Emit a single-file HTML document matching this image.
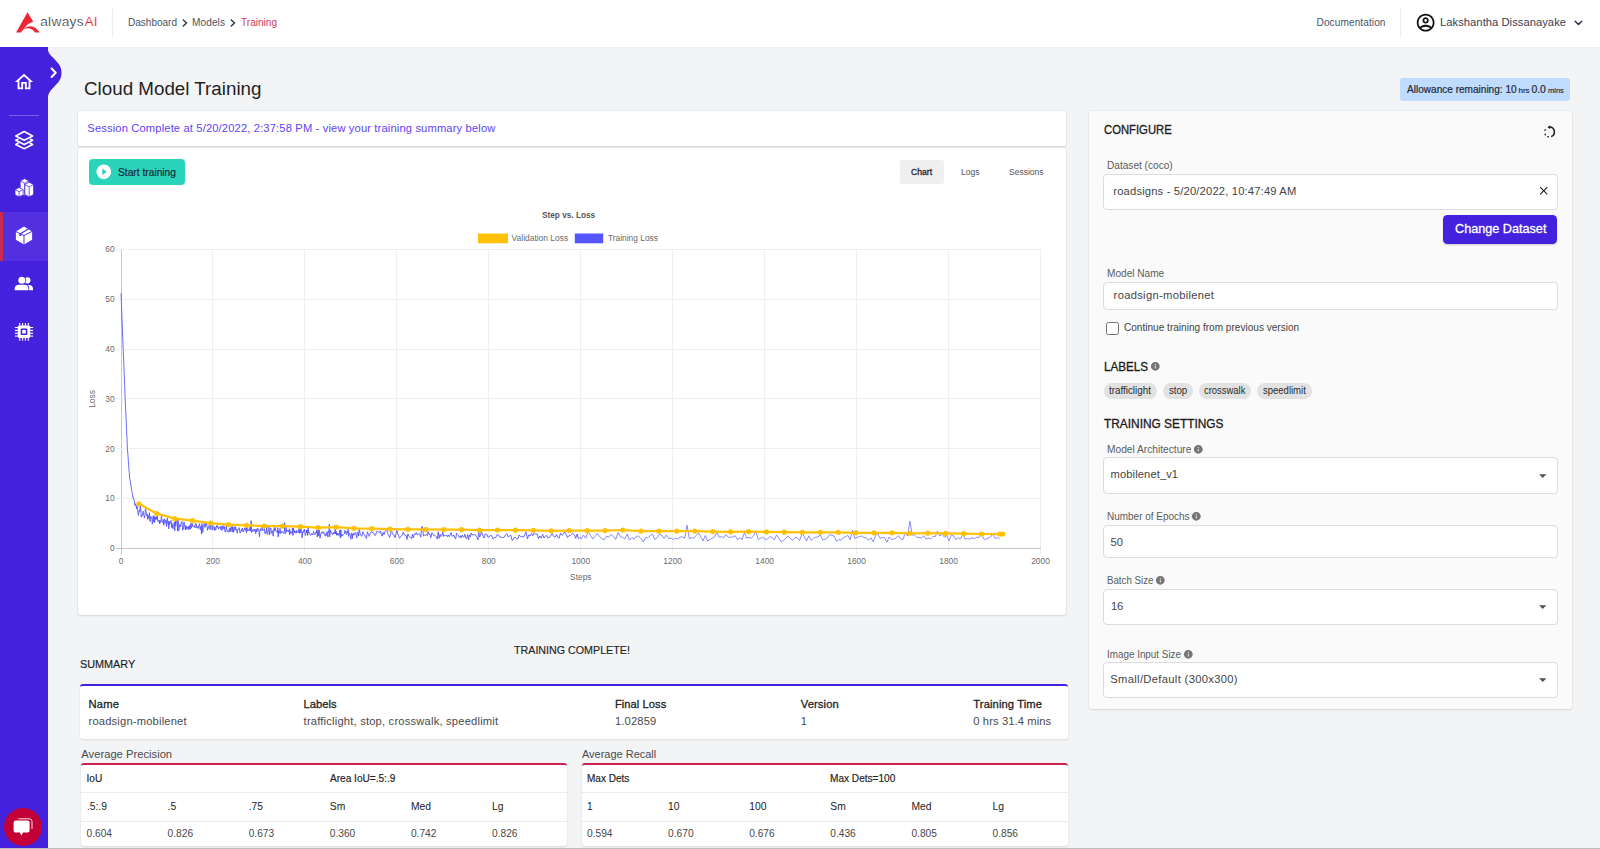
<!DOCTYPE html>
<html lang="en"><head><meta charset="utf-8"><title>Cloud Model Training - alwaysAI</title>
<style>
html,body{margin:0;padding:0}
body{width:1600px;height:849px;position:relative;overflow:hidden;background:#f3f4f6;font-family:"Liberation Sans",sans-serif}
.b{position:absolute;box-sizing:border-box}
.t{position:absolute;white-space:nowrap}
svg{display:block;overflow:visible}
svg text{font-family:"Liberation Sans",sans-serif}
</style></head>
<body>
<div class="b" style="left:0px;top:0px;width:1600px;height:849px;background:#f3f4f6"></div>
<div class="b" style="left:0px;top:0px;width:1600px;height:47px;background:#fff;box-shadow:0 1px 1px rgba(0,0,0,.025)"></div>
<div class="b" style="left:112px;top:7px;width:1px;height:31px;background:#eeeeee"></div>
<div class="b" style="left:1400px;top:7px;width:1px;height:31px;background:#eeeeee"></div>
<svg class="b" style="left:0;top:0" width="120" height="47" viewBox="0 0 120 47"><g fill="#ee2737"><path d="M27.5 12.3 L33.3 21.7 C29.6 22.6 26.6 24.8 24.3 28.2 L20.9 32.6 L16.1 32.6 Z"/><path d="M23.8 29.2 C26 26.9 28.4 26.1 30.8 26.2 C34.4 26.4 37.2 28.6 39.6 32.6 L35 32.6 C33.6 30.2 31.6 28.7 29.4 28.4 C27.4 28.2 25.6 28.5 23.8 29.6 Z"/></g></svg>
<span class="t" id="lg1" style="left:40.2px;top:12.4px;font-size:13.7px;line-height:19px;color:#2e2e2e;font-weight:400;letter-spacing:0.311px;-webkit-text-stroke:0.22px #fff;">always</span>
<span class="t" id="lg2" style="left:84.6px;top:12.4px;font-size:13.7px;line-height:19px;color:#ee2737;font-weight:400;-webkit-text-stroke:0.15px #fff;">AI</span>
<span class="t" id="bc1" style="left:128px;top:15.5px;font-size:10.1px;line-height:14px;color:#4a5363;font-weight:400;transform:scaleX(0.9921);transform-origin:left center;">Dashboard</span>
<svg class="b" style="left:181.7px;top:18.5px" width="6" height="8" viewBox="0 0 6 8"><path d="M1.3 1 L4.5 4 L1.3 7" fill="none" stroke="#2b3544" stroke-width="1.5" stroke-linecap="round" stroke-linejoin="round"/></svg>
<span class="t" id="bc2" style="left:192px;top:15.5px;font-size:10.1px;line-height:14px;color:#4a5363;font-weight:400;letter-spacing:0.091px;">Models</span>
<svg class="b" style="left:229.7px;top:18.5px" width="6" height="8" viewBox="0 0 6 8"><path d="M1.3 1 L4.5 4 L1.3 7" fill="none" stroke="#2b3544" stroke-width="1.5" stroke-linecap="round" stroke-linejoin="round"/></svg>
<span class="t" id="bc3" style="left:240.5px;top:15.5px;font-size:10.1px;line-height:14px;color:#d03a5c;font-weight:400;transform:scaleX(0.9974);transform-origin:left center;">Training</span>
<span class="t" id="doc" style="left:1316.5px;top:15.5px;font-size:10.1px;line-height:14px;color:#4b5563;font-weight:400;letter-spacing:0.091px;">Documentation</span>
<svg class="b" style="left:1414.9499999999998px;top:12.15px" width="21.3" height="21.3" viewBox="0 0 24 24"><path fill="#111" d="M12 2C6.48 2 2 6.48 2 12s4.48 10 10 10 10-4.48 10-10S17.52 2 12 2zM7.07 18.28c.43-.9 3.05-1.78 4.93-1.78s4.51.88 4.93 1.78C15.57 19.36 13.86 20 12 20s-3.57-.64-4.93-1.72zm11.29-1.45c-1.43-1.74-4.9-2.33-6.36-2.33s-4.93.59-6.36 2.33C4.62 15.49 4 13.82 4 12c0-4.41 3.59-8 8-8s8 3.59 8 8c0 1.82-.62 3.49-1.64 4.83zM12 6c-1.94 0-3.5 1.56-3.5 3.5S10.06 13 12 13s3.5-1.56 3.5-3.5S13.94 6 12 6zm0 5c-.83 0-1.5-.67-1.5-1.5S11.17 8 12 8s1.5.67 1.5 1.5S12.83 11 12 11z"/></svg>
<span class="t" id="usr" style="left:1440px;top:14.1px;font-size:11.2px;line-height:16px;color:#374151;font-weight:400;letter-spacing:0.047px;">Lakshantha Dissanayake</span>
<svg class="b" style="left:1574px;top:20px" width="9" height="6" viewBox="0 0 9 6"><path d="M1.2 1.2 L4.5 4.5 L7.8 1.2" fill="none" stroke="#2b3544" stroke-width="1.5" stroke-linecap="round" stroke-linejoin="round"/></svg>
<div class="b" style="left:0px;top:47.4px;width:47.5px;height:801.6px;background:#4422dd"></div>
<svg class="b" style="left:47px;top:47px" width="18" height="60" viewBox="0 0 18 60"><path fill="#4422dd" d="M0 0 H0.6 C0.8 5 2.5 7.5 6 10.5 L11.3 16.4 C15.6 21 15.6 30.5 11.3 35.2 L6 41 C2.5 44.5 0.8 47.5 0.6 53 V60 H0 Z"/></svg>
<svg class="b" style="left:50px;top:67px" width="8" height="12" viewBox="0 0 8 12"><path d="M1.6 1.6 L5.7 5.8 L1.6 10" fill="none" stroke="#fff" stroke-width="2.1" stroke-linecap="round" stroke-linejoin="round"/></svg>
<div class="b" style="left:0px;top:211.8px;width:47.5px;height:49.0px;background:#5230e2"></div>
<div class="b" style="left:0px;top:211.8px;width:2.6px;height:49.0px;background:#c92a50"></div>
<div class="b" style="left:9px;top:115px;width:30px;height:1px;background:rgba(255,255,255,.28)"></div>
<svg class="b" style="left:13.0px;top:71.2px" width="22" height="22" viewBox="0 0 24 24"><path fill="#fff" d="M12 5.69l5 4.5V18h-2v-6H9v6H7v-7.81l5-4.5M12 3L2 12h3v8h6v-6h2v6h6v-8h3L12 3z"/></svg>
<svg class="b" style="left:0;top:120px" width="48" height="90" viewBox="0 120 48 90"><g fill="none" stroke="#fff" stroke-width="1.65" stroke-linejoin="round" stroke-linecap="round"><path d="M24.2 131.5 L32.6 135.9 L24.2 140.3 L15.8 135.9 Z"/><path d="M18 139.1 L15.8 140.3 L24.2 144.6 L32.6 140.3 L30.4 139.1"/><path d="M18 143.2 L15.8 144.4 L24.2 148.7 L32.6 144.4 L30.4 143.2"/></g><g fill="#fff" stroke="#4422dd" stroke-width="0.75" stroke-linejoin="round"><path d="M24.6 178.6 L29 180.9 V193.8 L24.6 196 L20.2 193.8 V180.9 Z"/><path d="M20.2 180.9 L24.6 183.2 L29 180.9 M24.6 183.2 V196" fill="none"/><path d="M29.2 182.2 L33.6 184.5 V194.6 L29.2 196.9 L24.8 194.6 V184.5 Z"/><path d="M24.8 184.5 L29.2 186.8 L33.6 184.5 M29.2 186.8 V196.9" fill="none"/><path d="M19.1 187.5 L23.2 189.6 V194.8 L19.1 196.9 L15 194.8 V189.6 Z"/><path d="M15 189.6 L19.1 191.7 L23.2 189.6 M19.1 191.7 V196.9" fill="none"/></g></svg>
<svg class="b" style="left:0;top:220px" width="48" height="32" viewBox="0 220 48 32"><path fill="#fff" d="M24 226.5 L32.1 231.4 V239.7 L24 244.6 L15.9 239.7 V231.6 Z"/><g fill="none" stroke="#4a28e0" stroke-width="0.95" stroke-linejoin="round"><path d="M15.9 231.6 L24 235.5 L32.1 231.4 M24 235.5 V244.6"/><path d="M20.4 233.7 L28.3 229.1" stroke-width="1.15"/></g><path fill="#4a28e0" d="M19.4 233.3 L19.4 236.2 L20.3 235.8 L21.2 236.6 L21.2 234.2 Z"/></svg>
<svg class="b" style="left:0;top:270px" width="48" height="80" viewBox="0 270 48 80"><g fill="#fff"><circle cx="27.4" cy="280.3" r="3.1"/><path d="M25.6 290.2 V288.6 C25.6 286.9 26.3 285.7 27.4 284.9 H29 C31.4 284.9 33 286.5 33 288.6 V290.2 Z"/><circle cx="21.8" cy="280.2" r="4.3" fill="#4422dd"/><path d="M13.9 290.9 V288.4 C13.9 285.8 16 284 18.6 284 H25 C27.6 284 29.2 285.8 29.2 288.4 V290.9 Z" fill="#4422dd"/><circle cx="21.8" cy="280.2" r="3.5"/><path d="M14.7 290.2 V288.6 C14.7 286.4 16.4 284.8 18.8 284.8 H24.8 C27 284.8 28.4 286.4 28.4 288.6 V290.2 Z"/><rect x="19.15" y="322.9" width="1.1" height="17.8"/><rect x="14.9" y="326.95" width="18.2" height="1.1"/><rect x="22.05" y="322.9" width="1.1" height="17.8"/><rect x="14.9" y="329.85" width="18.2" height="1.1"/><rect x="24.85" y="322.9" width="1.1" height="17.8"/><rect x="14.9" y="332.65" width="18.2" height="1.1"/><rect x="27.75" y="322.9" width="1.1" height="17.8"/><rect x="14.9" y="335.55" width="18.2" height="1.1"/><rect x="17.8" y="325.5" width="12.4" height="12.6" rx="1.6"/><rect x="20.7" y="328.6" width="6.6" height="6.5" rx="0.8" fill="#4422dd"/><rect x="22.2" y="330.1" width="3.6" height="3.5" rx="0.3"/></g></svg>
<div class="b" style="left:4.4px;top:808px;width:38.0px;height:38px;background:#c20035;border-radius:50%"></div>
<svg class="b" style="left:12.3px;top:816.6px" width="22" height="21" viewBox="0 0 22 21"><path fill="#fff" d="M4 3.4 H15.6 Q17.6 3.4 17.6 5.4 V13.6 Q17.6 15.6 15.6 15.6 H11 L9.4 18.4 L7.8 15.6 H4 Q1.6 15.6 1.6 13.4 V5.6 Q1.6 3.4 4 3.4 Z"/><path fill="none" stroke="#fff" stroke-width="0.9" d="M6.4 1.8 H17.4 Q20 1.8 20 4.4 V12"/></svg>
<span class="t" id="ttl" style="left:84px;top:75.0px;font-size:19.2px;line-height:27px;color:#1f1f1f;font-weight:400;transform:scaleX(0.9789);transform-origin:left center;">Cloud Model Training</span>
<div class="b" style="left:1400px;top:78px;width:170px;height:22.700000000000003px;background:#bfdbfe;border-radius:3px"></div>
<span class="t" id="al1" style="left:1407px;top:81.9px;font-size:10.4px;line-height:15px;color:#1f2937;font-weight:400;-webkit-text-stroke:0.2px currentColor;transform:scaleX(0.9680);transform-origin:left center;">Allowance remaining: 10</span>
<span class="t" id="al2" style="left:1518.5px;top:84.7px;font-size:8px;line-height:11px;color:#1f2937;font-weight:400;-webkit-text-stroke:0.16px currentColor;">hrs</span>
<span class="t" id="al3" style="left:1531.4px;top:81.9px;font-size:10.4px;line-height:15px;color:#1f2937;font-weight:400;-webkit-text-stroke:0.2px currentColor;">0.0</span>
<span class="t" id="al4" style="left:1547.7px;top:84.7px;font-size:8px;line-height:11px;color:#1f2937;font-weight:400;-webkit-text-stroke:0.16px currentColor;transform:scaleX(0.9354);transform-origin:left center;">mins</span>
<div class="b" style="left:78.2px;top:110.9px;width:987.8px;height:34.79999999999998px;background:#fff;border-radius:2.5px;box-shadow:0 0 0 1px rgba(0,0,0,.035),0 1px 2px rgba(0,0,0,.09);"></div>
<span class="t" id="ses" style="left:87.3px;top:119.6px;font-size:11.2px;line-height:16px;color:#6144f2;font-weight:400;letter-spacing:0.134px;">Session Complete at 5/20/2022, 2:37:58 PM - view your training summary below</span>
<div class="b" style="left:78.2px;top:148px;width:987.8px;height:467.4px;background:#fff;border-radius:2.5px;box-shadow:0 0 0 1px rgba(0,0,0,.035),0 1px 2px rgba(0,0,0,.09);"></div>
<div class="b" style="left:89px;top:159.3px;width:96px;height:25.399999999999977px;background:#2ad4bb;border-radius:4px"></div>
<svg class="b" style="left:94.7px;top:163.39999999999998px" width="17.6" height="17.6" viewBox="0 0 24 24"><path fill="#fff" d="M12 2C6.48 2 2 6.48 2 12s4.48 10 10 10 10-4.48 10-10S17.52 2 12 2zm-2 14.5v-9l6 4.5-6 4.5z"/></svg>
<span class="t" id="stb" style="left:117.5px;top:164.7px;font-size:10.4px;line-height:15px;color:#1f2937;font-weight:400;-webkit-text-stroke:0.22px currentColor;transform:scaleX(0.9844);transform-origin:left center;">Start training</span>
<div class="b" style="left:900.2px;top:160px;width:43.5px;height:24.19999999999999px;background:#efefef;border-radius:3px"></div>
<span class="t" id="tb1" style="left:911.3px;top:164.9px;font-size:9.6px;line-height:13px;color:#222;font-weight:400;-webkit-text-stroke:0.3px currentColor;transform:scaleX(0.8991);transform-origin:left center;">Chart</span>
<span class="t" id="tb2" style="left:961.4px;top:164.9px;font-size:9.6px;line-height:13px;color:#555;font-weight:400;transform:scaleX(0.8937);transform-origin:left center;">Logs</span>
<span class="t" id="tb3" style="left:1008.7px;top:164.9px;font-size:9.6px;line-height:13px;color:#555;font-weight:400;transform:scaleX(0.8886);transform-origin:left center;">Sessions</span>
<svg class="b" style="left:0;top:0" width="1100" height="620" viewBox="0 0 1100 620">
<g shape-rendering="crispEdges"><line x1="121.0" y1="249.5" x2="121.0" y2="553.5" stroke="#c6c6c6" stroke-width="1"/><line x1="212.9" y1="249.5" x2="212.9" y2="553.5" stroke="#eeeeee" stroke-width="1"/><line x1="304.9" y1="249.5" x2="304.9" y2="553.5" stroke="#eeeeee" stroke-width="1"/><line x1="396.9" y1="249.5" x2="396.9" y2="553.5" stroke="#eeeeee" stroke-width="1"/><line x1="488.8" y1="249.5" x2="488.8" y2="553.5" stroke="#eeeeee" stroke-width="1"/><line x1="580.8" y1="249.5" x2="580.8" y2="553.5" stroke="#eeeeee" stroke-width="1"/><line x1="672.7" y1="249.5" x2="672.7" y2="553.5" stroke="#eeeeee" stroke-width="1"/><line x1="764.6" y1="249.5" x2="764.6" y2="553.5" stroke="#eeeeee" stroke-width="1"/><line x1="856.6" y1="249.5" x2="856.6" y2="553.5" stroke="#eeeeee" stroke-width="1"/><line x1="948.5" y1="249.5" x2="948.5" y2="553.5" stroke="#eeeeee" stroke-width="1"/><line x1="1040.5" y1="249.5" x2="1040.5" y2="553.5" stroke="#eeeeee" stroke-width="1"/><line x1="116.0" y1="548.5" x2="1040.5" y2="548.5" stroke="#c6c6c6" stroke-width="1"/><line x1="116.0" y1="498.6" x2="1040.5" y2="498.6" stroke="#eeeeee" stroke-width="1"/><line x1="116.0" y1="448.8" x2="1040.5" y2="448.8" stroke="#eeeeee" stroke-width="1"/><line x1="116.0" y1="398.9" x2="1040.5" y2="398.9" stroke="#eeeeee" stroke-width="1"/><line x1="116.0" y1="349.0" x2="1040.5" y2="349.0" stroke="#eeeeee" stroke-width="1"/><line x1="116.0" y1="299.1" x2="1040.5" y2="299.1" stroke="#eeeeee" stroke-width="1"/><line x1="116.0" y1="249.3" x2="1040.5" y2="249.3" stroke="#eeeeee" stroke-width="1"/></g>
<polyline fill="none" stroke="#4f4ffa" stroke-width="0.85" stroke-linejoin="round" points="121.0,293.3 121.5,304.5 121.9,316.6 122.4,328.3 122.8,340.3 123.3,351.5 123.8,362.3 124.2,374.3 124.7,385.5 125.1,397.6 125.6,407.8 126.1,418.1 126.5,429.4 127.0,438.1 127.4,448.5 127.9,454.3 128.4,461.5 128.8,467.5 129.3,472.8 129.7,478.5 130.2,480.8 130.7,483.8 131.1,486.2 131.6,489.7 132.0,491.9 132.5,494.6 133.0,498.0 133.4,497.9 133.9,499.8 134.3,500.7 134.8,504.3 135.3,505.8 135.7,503.7 136.2,505.9 136.6,509.1 137.1,506.1 137.6,508.5 138.0,513.6 138.5,515.4 138.9,511.5 139.4,509.9 139.8,511.6 140.3,505.2 140.8,509.8 141.2,517.1 141.7,515.1 142.1,515.9 142.6,515.3 143.1,511.1 143.5,515.0 144.0,515.4 144.4,518.1 144.9,515.5 145.4,508.7 145.8,509.4 146.3,514.6 146.7,515.9 147.2,513.7 147.7,519.4 148.1,515.7 148.6,515.6 149.0,518.7 149.5,512.7 150.0,521.7 150.4,517.6 150.9,516.2 151.3,518.2 151.8,518.2 152.3,524.2 152.7,521.3 153.2,515.7 153.6,521.6 154.1,516.2 154.6,522.6 155.0,516.8 155.5,517.7 155.9,519.6 156.4,516.7 156.9,519.6 157.3,513.6 157.8,521.6 158.2,521.6 158.7,521.7 159.2,520.0 159.6,523.9 160.1,520.7 160.5,522.5 161.0,519.9 161.5,515.6 161.9,520.9 162.4,522.5 162.8,522.2 163.3,519.6 163.8,525.2 164.2,520.2 164.7,518.8 165.1,523.4 165.6,521.1 166.1,520.1 166.5,526.5 167.0,522.6 167.4,518.0 167.9,523.6 168.4,521.4 168.8,528.9 169.3,521.6 169.7,524.7 170.2,522.3 170.7,522.8 171.1,520.5 171.6,527.5 172.0,523.5 172.5,527.0 173.0,528.8 173.4,525.8 173.9,524.1 174.3,522.3 174.8,530.8 175.3,520.8 175.7,526.0 176.2,521.6 176.6,520.4 177.1,521.6 177.5,531.1 178.0,519.9 178.5,525.5 178.9,530.9 179.4,526.2 179.8,524.5 180.3,526.9 180.8,525.2 181.2,522.2 181.7,521.8 182.1,521.6 182.6,530.3 183.1,528.4 183.5,528.9 184.0,521.9 184.4,525.8 184.9,525.8 185.4,530.0 185.8,525.4 186.3,529.3 186.7,526.5 187.2,528.0 187.7,527.0 188.1,529.5 188.6,526.5 189.0,529.7 189.5,525.3 190.0,527.5 190.4,529.2 190.9,523.0 191.3,528.1 191.8,526.9 192.3,523.6 192.7,526.0 193.2,525.9 193.6,526.9 194.1,526.0 194.6,525.9 195.0,527.9 195.5,523.9 195.9,523.1 196.4,524.8 196.9,528.0 197.3,526.6 197.8,528.6 198.2,528.3 198.7,526.0 199.2,524.3 199.6,523.6 200.1,529.7 200.5,529.7 201.0,526.0 201.5,534.1 201.9,523.5 202.4,526.7 202.8,532.6 203.3,525.3 203.8,524.6 204.2,523.4 204.7,527.2 205.1,527.5 205.6,522.7 206.1,525.5 206.5,523.8 207.0,525.7 207.4,530.3 207.9,527.5 208.4,528.4 208.8,527.0 209.3,524.3 209.7,527.4 210.2,529.8 210.7,524.4 211.1,524.3 211.6,521.1 212.0,530.0 212.5,529.1 212.9,525.5 213.4,526.2 213.9,527.6 214.3,530.5 214.8,526.8 215.2,529.0 215.7,530.2 216.2,527.8 216.6,525.7 217.1,527.4 217.5,525.4 218.0,526.9 218.5,529.3 218.9,527.5 219.4,527.8 219.8,527.1 220.3,526.5 220.8,529.6 221.2,526.1 221.7,527.3 222.1,530.6 222.6,526.1 223.1,525.4 223.5,528.2 224.0,529.0 224.4,526.6 224.9,531.2 225.4,532.2 225.8,532.2 226.3,524.1 226.7,529.9 227.2,530.0 227.7,531.9 228.1,532.0 228.6,532.0 229.0,530.0 229.5,528.4 230.0,532.1 230.4,527.6 230.9,531.1 231.3,526.6 231.8,527.3 232.3,532.0 232.7,526.5 233.2,529.9 233.6,532.4 234.1,526.8 234.6,528.5 235.0,530.3 235.5,526.6 235.9,527.6 236.4,530.4 236.9,531.5 237.3,533.3 237.8,529.1 238.2,529.6 238.7,528.8 239.2,527.6 239.6,531.7 240.1,533.1 240.5,532.6 241.0,530.5 241.5,529.2 241.9,531.2 242.4,528.0 242.8,530.1 243.3,532.0 243.8,529.9 244.2,529.8 244.7,527.8 245.1,529.4 245.6,530.8 246.1,528.0 246.5,532.7 247.0,526.8 247.4,530.5 247.9,531.0 248.4,529.5 248.8,530.6 249.3,530.8 249.7,527.2 250.2,527.4 250.6,531.2 251.1,520.6 251.6,532.5 252.0,531.9 252.5,529.9 252.9,530.6 253.4,529.4 253.9,531.5 254.3,530.2 254.8,529.0 255.2,529.8 255.7,533.7 256.2,528.9 256.6,532.0 257.1,531.0 257.5,527.9 258.0,529.4 258.5,529.4 258.9,531.5 259.4,536.8 259.8,532.0 260.3,528.6 260.8,530.4 261.2,530.0 261.7,530.4 262.1,526.8 262.6,530.4 263.1,530.2 263.5,530.0 264.0,530.5 264.4,528.7 264.9,533.6 265.4,533.4 265.8,531.7 266.3,532.4 266.7,526.0 267.2,534.3 267.7,534.5 268.1,531.5 268.6,529.4 269.0,526.9 269.5,535.0 270.0,529.7 270.4,529.3 270.9,528.1 271.3,533.4 271.8,531.6 272.3,530.6 272.7,533.7 273.2,536.2 273.6,531.5 274.1,528.5 274.6,531.2 275.0,527.1 275.5,530.7 275.9,530.6 276.4,531.2 276.9,531.3 277.3,533.0 277.8,527.5 278.2,537.0 278.7,530.6 279.2,533.4 279.6,531.7 280.1,528.2 280.5,533.7 281.0,533.4 281.5,531.2 281.9,531.9 282.4,531.5 282.8,532.6 283.3,533.3 283.8,533.5 284.2,532.1 284.7,522.6 285.1,533.5 285.6,533.6 286.1,527.2 286.5,531.8 287.0,530.0 287.4,530.9 287.9,530.6 288.3,531.8 288.8,531.7 289.3,528.8 289.7,534.9 290.2,530.6 290.6,533.1 291.1,532.3 291.6,532.9 292.0,533.7 292.5,527.8 292.9,535.5 293.4,528.2 293.9,531.9 294.3,530.5 294.8,533.1 295.2,532.2 295.7,531.3 296.2,533.2 296.6,530.4 297.1,532.1 297.5,532.0 298.0,532.4 298.5,532.7 298.9,529.1 299.4,533.3 299.8,527.4 300.3,533.0 300.8,529.0 301.2,530.1 301.7,531.1 302.1,537.9 302.6,531.9 303.1,532.7 303.5,530.5 304.0,531.2 304.4,529.3 304.9,532.4 305.4,535.6 305.8,535.2 306.3,530.0 306.7,532.8 307.2,529.9 307.7,535.5 308.1,527.6 308.6,533.0 309.0,532.0 309.5,533.5 310.0,535.1 310.4,535.2 310.9,535.1 311.3,533.5 311.8,533.9 312.3,534.8 312.7,533.8 313.2,533.0 313.6,531.4 314.1,534.7 314.6,533.9 315.0,534.6 315.5,533.1 315.9,532.1 316.4,533.1 316.9,527.3 317.3,537.0 317.8,531.0 318.2,527.9 318.7,536.1 319.2,530.1 319.6,532.3 320.1,538.2 320.5,534.3 321.0,534.2 321.5,532.8 321.9,531.7 322.4,533.2 322.8,533.0 323.3,532.6 323.7,531.6 324.2,534.0 324.7,533.5 325.1,536.2 325.6,534.3 326.0,534.1 326.5,535.4 327.0,531.6 327.4,533.9 327.9,537.0 328.3,531.3 328.8,532.3 329.3,524.2 329.7,536.9 330.2,531.7 330.6,530.2 331.1,533.2 331.6,532.7 332.0,534.0 332.5,534.7 332.9,533.6 333.4,532.6 333.9,534.0 334.3,532.2 334.8,533.9 335.2,525.1 335.7,534.0 336.2,531.2 336.6,535.3 337.1,533.3 337.5,535.1 338.0,533.0 338.5,534.8 338.9,535.7 339.4,533.9 339.8,529.9 340.3,538.1 340.8,529.8 341.2,532.8 341.7,536.5 342.1,534.7 342.6,535.7 343.1,534.9 343.5,534.2 344.0,533.6 344.4,533.5 344.9,530.3 345.4,532.8 345.8,531.7 346.3,534.7 346.7,533.5 347.2,531.0 347.7,533.1 348.1,529.2 348.6,536.4 349.0,532.8 349.5,534.3 350.0,534.4 350.4,537.8 350.9,539.2 351.3,533.7 351.8,532.8 352.3,538.7 352.7,533.9 353.2,535.2 353.6,533.5 354.1,535.1 354.6,533.6 355.0,532.5 355.5,532.7 355.9,533.7 356.4,536.0 356.9,538.1 357.3,532.1 357.8,532.4 358.2,532.2 358.7,536.0 359.2,528.9 359.6,530.1 360.1,533.7 361.0,535.6 361.9,536.2 362.8,531.7 363.7,534.2 364.7,534.8 365.6,537.7 366.5,538.5 367.4,531.7 368.3,534.2 369.3,536.4 370.2,533.4 371.1,532.0 372.0,531.6 372.9,533.0 373.9,533.3 374.8,535.5 375.7,535.1 376.6,531.5 377.5,531.1 378.5,532.3 379.4,533.0 380.3,530.9 381.2,533.7 382.1,536.2 383.1,532.4 384.0,534.7 384.9,531.7 385.8,530.3 386.7,529.4 387.7,533.7 388.6,535.1 389.5,537.4 390.4,534.8 391.3,529.3 392.3,533.2 393.2,534.8 394.1,535.0 395.0,537.8 395.9,534.1 396.9,530.2 397.8,534.0 398.7,536.1 399.6,538.3 400.5,536.8 401.4,535.6 402.4,535.2 403.3,532.2 404.2,534.7 405.1,535.2 406.0,535.1 407.0,539.5 407.9,533.8 408.8,536.2 409.7,537.0 410.6,537.2 411.6,538.6 412.5,534.4 413.4,537.9 414.3,533.9 415.2,534.5 416.2,532.5 417.1,534.9 418.0,534.8 418.9,533.6 419.8,534.3 420.8,537.1 421.7,526.6 422.6,526.6 423.5,536.2 424.4,534.7 425.4,535.7 426.3,534.4 427.2,535.6 428.1,531.7 429.0,534.5 430.0,534.1 430.9,537.7 431.8,532.7 432.7,533.5 433.6,535.7 434.5,535.2 435.5,535.8 436.4,537.2 437.3,539.1 438.2,531.7 439.1,538.4 440.1,534.2 441.0,536.7 441.9,535.8 442.8,532.1 443.7,536.5 444.7,535.3 445.6,535.5 446.5,535.2 447.4,536.7 448.3,534.8 449.3,536.8 450.2,534.9 451.1,532.7 452.0,536.1 452.9,536.2 453.9,535.0 454.8,538.2 455.7,538.8 456.6,533.2 457.5,534.4 458.5,535.5 459.4,537.5 460.3,535.7 461.2,538.0 462.1,535.1 463.1,536.8 464.0,537.1 464.9,534.2 465.8,538.1 466.7,538.8 467.7,534.5 468.6,539.6 469.5,534.9 470.4,536.7 471.3,533.0 472.2,535.0 473.2,534.6 474.1,534.9 475.0,534.4 475.9,536.0 476.8,536.7 477.8,539.9 478.7,532.3 479.6,537.0 480.5,535.4 481.4,531.6 482.4,534.1 483.3,536.7 484.2,538.0 485.1,534.3 486.0,534.0 487.0,534.3 487.9,537.1 488.8,537.2 490.2,535.4 491.6,535.6 492.9,538.9 494.3,537.4 495.7,537.7 497.1,534.5 498.5,534.9 499.8,537.1 501.2,537.2 502.6,537.5 504.0,537.5 505.4,535.0 506.7,533.6 508.1,536.9 509.5,535.9 510.9,535.3 512.2,540.6 513.6,538.3 515.0,537.3 516.4,538.5 517.8,539.0 519.1,535.0 520.5,536.7 521.9,536.2 523.3,537.3 524.7,534.9 526.0,531.9 527.4,538.9 528.8,534.9 530.2,535.9 531.6,533.3 532.9,535.7 534.3,533.1 535.7,534.2 537.1,534.0 538.5,538.8 539.8,536.0 541.2,538.1 542.6,534.3 544.0,538.0 545.3,536.2 546.7,535.6 548.1,538.0 549.5,537.5 550.9,535.5 552.2,533.5 553.6,536.5 555.0,537.2 556.4,534.5 557.8,537.5 559.1,538.1 560.5,533.3 561.9,535.4 563.3,534.3 564.7,531.8 566.0,534.0 567.4,537.5 568.8,535.8 570.2,535.6 571.6,534.3 572.9,533.3 574.3,534.7 575.7,538.3 577.1,534.1 578.5,538.8 579.8,537.5 581.2,538.8"/>
<polyline fill="none" stroke="#6464fb" stroke-width="0.75" stroke-linejoin="round" points="581.2,538.8 583.5,535.1 585.8,538.3 588.1,531.4 590.4,535.2 592.7,538.9 595.0,536.7 597.3,533.4 599.6,536.7 601.9,538.6 604.2,539.8 606.5,536.2 608.8,537.1 611.1,534.5 613.4,536.5 615.7,539.4 618.0,532.5 620.3,536.6 622.6,537.3 624.9,538.9 627.2,534.0 629.5,540.1 631.8,537.5 634.1,539.1 636.4,536.0 638.7,536.2 641.0,538.7 643.3,542.0 645.6,537.3 647.9,537.9 650.2,535.8 652.5,534.0 654.8,539.5 657.1,537.7 659.4,534.5 661.7,535.0 664.0,538.4 666.3,535.1 668.6,538.6 670.9,538.0 673.2,539.5 675.5,538.3 677.8,539.0 680.1,537.1 682.4,536.8 684.7,538.3 687.0,525.1 689.3,538.6 691.5,537.9 693.8,538.1 696.1,535.6 698.4,532.7 700.7,536.6 703.0,541.0 705.3,535.5 707.6,541.0 709.9,539.7 712.2,538.1 714.5,537.0 716.8,532.2 719.1,537.2 721.4,536.7 723.7,537.6 726.0,534.6 728.3,537.2 730.6,537.3 732.9,537.0 735.2,535.7 737.5,539.8 739.8,538.0 742.1,539.5 744.4,532.7 746.7,538.2 749.0,537.3 751.3,538.2 753.6,535.8 755.9,530.9 758.2,539.3 760.5,538.5 762.8,537.1 765.1,539.3 767.4,539.2 769.7,536.8 772.0,537.2 774.3,539.9 776.6,534.9 778.9,538.1 781.2,541.6 783.5,540.7 785.8,538.4 788.1,535.9 790.4,538.7 792.7,540.0 795.0,537.8 797.3,537.6 799.6,540.6 801.9,533.7 804.2,536.4 806.5,541.1 808.8,535.8 811.1,540.4 813.4,538.2 815.7,537.2 818.0,536.9 820.3,535.0 822.6,539.9 824.9,539.5 827.2,537.9 829.5,534.8 831.8,535.1 834.1,536.1 836.4,541.2 838.7,539.7 841.0,540.2 843.3,537.5 845.6,536.7 847.9,535.4 850.2,539.7 852.5,530.2 854.8,538.5 857.1,537.3 859.4,536.6 861.7,535.9 864.0,537.5 866.3,537.9 868.6,540.3 870.9,537.8 873.2,541.8 875.4,536.0 877.7,533.7 880.0,538.3 882.3,537.5 884.6,537.7 886.9,542.2 889.2,536.9 891.5,539.5 893.8,539.1 896.1,538.1 898.4,535.7 900.7,538.9 903.0,539.6 905.3,532.6 907.6,536.1 909.9,521.1 912.2,535.0 914.5,535.0 916.8,537.2 919.1,537.5 921.4,538.1 923.7,535.6 926.0,539.1 928.3,538.1 930.6,538.9 932.9,536.6 935.2,536.7 937.5,531.2 939.8,536.0 942.1,534.1 944.4,537.2 946.7,535.6 949.0,540.9 951.3,534.8 953.6,535.8 955.9,539.7 958.2,537.7 960.5,538.9 962.8,533.7 965.1,539.1 967.4,538.5 969.7,539.1 972.0,537.6 974.3,538.7 976.6,537.3 978.9,537.5 981.2,532.7 983.5,538.8 985.8,539.3 988.1,538.3 990.4,537.0 992.7,534.1 995.0,538.3 997.3,537.8 999.6,538.6"/>
<polyline fill="none" stroke="#ffc107" stroke-width="2.25" stroke-linejoin="round" stroke-linecap="round" points="138.9,503.8 156.9,513.7 174.8,518.7 192.7,520.7 210.7,523.1 228.6,524.7 246.5,525.3 264.4,526.1 282.4,526.1 300.3,526.7 318.2,527.7 336.2,527.1 354.1,528.3 372.0,528.7 390.0,529.1 407.9,529.3 425.8,529.4 443.7,529.6 461.7,529.7 479.6,530.1 497.5,530.1 515.5,530.2 533.4,530.3 551.3,530.8 569.3,530.6 587.2,530.6 605.1,530.6 623.0,530.0 641.0,531.1 658.9,531.2 676.8,531.1 694.8,531.1 712.7,531.6 730.6,531.8 748.6,531.7 766.5,531.9 784.4,532.2 802.3,532.3 820.3,532.3 838.2,532.3 856.1,532.8 874.1,532.9 892.0,532.8 909.9,533.3 927.9,533.2 945.8,533.4 963.7,533.7 981.7,534.0 999.6,534.0 1002.8,534.0"/>
<g fill="#ffc107"><circle cx="138.9" cy="503.8" r="2.6"/><circle cx="156.9" cy="513.7" r="2.6"/><circle cx="174.8" cy="518.7" r="2.6"/><circle cx="192.7" cy="520.7" r="2.6"/><circle cx="210.7" cy="523.1" r="2.6"/><circle cx="228.6" cy="524.7" r="2.6"/><circle cx="246.5" cy="525.3" r="2.6"/><circle cx="264.4" cy="526.1" r="2.6"/><circle cx="282.4" cy="526.1" r="2.6"/><circle cx="300.3" cy="526.7" r="2.6"/><circle cx="318.2" cy="527.7" r="2.6"/><circle cx="336.2" cy="527.1" r="2.6"/><circle cx="354.1" cy="528.3" r="2.6"/><circle cx="372.0" cy="528.7" r="2.6"/><circle cx="390.0" cy="529.1" r="2.6"/><circle cx="407.9" cy="529.3" r="2.6"/><circle cx="425.8" cy="529.4" r="2.6"/><circle cx="443.7" cy="529.6" r="2.6"/><circle cx="461.7" cy="529.7" r="2.6"/><circle cx="479.6" cy="530.1" r="2.6"/><circle cx="497.5" cy="530.1" r="2.6"/><circle cx="515.5" cy="530.2" r="2.6"/><circle cx="533.4" cy="530.3" r="2.6"/><circle cx="551.3" cy="530.8" r="2.6"/><circle cx="569.3" cy="530.6" r="2.6"/><circle cx="587.2" cy="530.6" r="2.6"/><circle cx="605.1" cy="530.6" r="2.6"/><circle cx="623.0" cy="530.0" r="2.6"/><circle cx="641.0" cy="531.1" r="2.6"/><circle cx="658.9" cy="531.2" r="2.6"/><circle cx="676.8" cy="531.1" r="2.6"/><circle cx="694.8" cy="531.1" r="2.6"/><circle cx="712.7" cy="531.6" r="2.6"/><circle cx="730.6" cy="531.8" r="2.6"/><circle cx="748.6" cy="531.7" r="2.6"/><circle cx="766.5" cy="531.9" r="2.6"/><circle cx="784.4" cy="532.2" r="2.6"/><circle cx="802.3" cy="532.3" r="2.6"/><circle cx="820.3" cy="532.3" r="2.6"/><circle cx="838.2" cy="532.3" r="2.6"/><circle cx="856.1" cy="532.8" r="2.6"/><circle cx="874.1" cy="532.9" r="2.6"/><circle cx="892.0" cy="532.8" r="2.6"/><circle cx="909.9" cy="533.3" r="2.6"/><circle cx="927.9" cy="533.2" r="2.6"/><circle cx="945.8" cy="533.4" r="2.6"/><circle cx="963.7" cy="533.7" r="2.6"/><circle cx="981.7" cy="534.0" r="2.6"/><circle cx="999.6" cy="534.0" r="2.6"/><circle cx="1002.8" cy="534.0" r="2.6"/></g>
<rect x="478" y="233.5" width="30" height="9.8" fill="#ffc107"/><rect x="574.8" y="233.5" width="28.4" height="9.8" fill="#5555ff"/>
</svg>
<span class="t" id="ct" style="left:542.1px;top:209.0px;font-size:8.3px;line-height:12px;color:#555;font-weight:700;transform:scaleX(0.9944);transform-origin:left center;">Step vs. Loss</span>
<span class="t" id="cl1" style="left:511.6px;top:231.8px;font-size:8.4px;line-height:12px;color:#6a6a6a;font-weight:400;letter-spacing:0.022px;">Validation Loss</span>
<span class="t" id="cl2" style="left:607.6px;top:231.8px;font-size:8.4px;line-height:12px;color:#6a6a6a;font-weight:400;transform:scaleX(0.9986);transform-origin:left center;">Training Loss</span>
<span class="t" id="cy0" style="left:114.6px;top:542.3px;font-size:8.4px;line-height:12px;color:#6a6a6a;font-weight:400;transform:translateX(-100%);transform-origin:right center;">0</span>
<span class="t" id="cy1" style="left:114.6px;top:492.4px;font-size:8.4px;line-height:12px;color:#6a6a6a;font-weight:400;transform:translateX(-100%);transform-origin:right center;">10</span>
<span class="t" id="cy2" style="left:114.6px;top:442.6px;font-size:8.4px;line-height:12px;color:#6a6a6a;font-weight:400;transform:translateX(-100%);transform-origin:right center;">20</span>
<span class="t" id="cy3" style="left:114.6px;top:392.7px;font-size:8.4px;line-height:12px;color:#6a6a6a;font-weight:400;transform:translateX(-100%);transform-origin:right center;">30</span>
<span class="t" id="cy4" style="left:114.6px;top:342.8px;font-size:8.4px;line-height:12px;color:#6a6a6a;font-weight:400;transform:translateX(-100%);transform-origin:right center;">40</span>
<span class="t" id="cy5" style="left:114.6px;top:292.9px;font-size:8.4px;line-height:12px;color:#6a6a6a;font-weight:400;transform:translateX(-100%);transform-origin:right center;">50</span>
<span class="t" id="cy6" style="left:114.6px;top:243.1px;font-size:8.4px;line-height:12px;color:#6a6a6a;font-weight:400;transform:translateX(-100%);transform-origin:right center;">60</span>
<span class="t" id="cx0" style="left:121.0px;top:554.6px;font-size:8.4px;line-height:12px;color:#6a6a6a;font-weight:400;transform:translateX(-50%);transform-origin:center center;">0</span>
<span class="t" id="cx1" style="left:212.95px;top:554.6px;font-size:8.4px;line-height:12px;color:#6a6a6a;font-weight:400;transform:translateX(-50%);transform-origin:center center;">200</span>
<span class="t" id="cx2" style="left:304.9px;top:554.6px;font-size:8.4px;line-height:12px;color:#6a6a6a;font-weight:400;transform:translateX(-50%);transform-origin:center center;">400</span>
<span class="t" id="cx3" style="left:396.85px;top:554.6px;font-size:8.4px;line-height:12px;color:#6a6a6a;font-weight:400;transform:translateX(-50%);transform-origin:center center;">600</span>
<span class="t" id="cx4" style="left:488.8px;top:554.6px;font-size:8.4px;line-height:12px;color:#6a6a6a;font-weight:400;transform:translateX(-50%);transform-origin:center center;">800</span>
<span class="t" id="cx5" style="left:580.75px;top:554.6px;font-size:8.4px;line-height:12px;color:#6a6a6a;font-weight:400;transform:translateX(-50%);transform-origin:center center;">1000</span>
<span class="t" id="cx6" style="left:672.7px;top:554.6px;font-size:8.4px;line-height:12px;color:#6a6a6a;font-weight:400;transform:translateX(-50%);transform-origin:center center;">1200</span>
<span class="t" id="cx7" style="left:764.65px;top:554.6px;font-size:8.4px;line-height:12px;color:#6a6a6a;font-weight:400;transform:translateX(-50%);transform-origin:center center;">1400</span>
<span class="t" id="cx8" style="left:856.6px;top:554.6px;font-size:8.4px;line-height:12px;color:#6a6a6a;font-weight:400;transform:translateX(-50%);transform-origin:center center;">1600</span>
<span class="t" id="cx9" style="left:948.55px;top:554.6px;font-size:8.4px;line-height:12px;color:#6a6a6a;font-weight:400;transform:translateX(-50%);transform-origin:center center;">1800</span>
<span class="t" id="cx10" style="left:1040.5px;top:554.6px;font-size:8.4px;line-height:12px;color:#6a6a6a;font-weight:400;transform:translateX(-50%);transform-origin:center center;">2000</span>
<span class="t" id="cxs" style="left:580.8px;top:571.2px;font-size:8.4px;line-height:12px;color:#6a6a6a;font-weight:400;transform:translateX(-50%);transform-origin:center center;">Steps</span>
<span class="t" id="cys" style="left:92px;top:399px;font-size:8.4px;line-height:12px;color:#6a6a6a;transform:translate(-50%,-50%) rotate(-90deg)">Loss</span>
<span class="t" id="sm0" style="left:513.9px;top:641.9px;font-size:11.2px;line-height:16px;color:#1f1f1f;font-weight:400;-webkit-text-stroke:0.16px currentColor;transform:scaleX(0.9561);transform-origin:left center;">TRAINING COMPLETE!</span>
<span class="t" id="sm1" style="left:79.8px;top:656.3px;font-size:11.2px;line-height:16px;color:#1a1a1a;font-weight:400;-webkit-text-stroke:0.16px currentColor;transform:scaleX(0.9687);transform-origin:left center;">SUMMARY</span>
<div class="b" style="left:80.3px;top:684.3px;width:987.5px;height:54.40000000000009px;background:#fff;border-radius:3px;border-top:2.2px solid #4422dd;box-shadow:0 1px 2px rgba(0,0,0,.10)"></div>
<span class="t" id="sh0" style="left:88.5px;top:696.2px;font-size:11.2px;line-height:16px;color:#1f1f1f;font-weight:400;letter-spacing:0.219px;-webkit-text-stroke:0.3px currentColor;">Name</span>
<span class="t" id="sv0" style="left:88.5px;top:713.0px;font-size:11.2px;line-height:16px;color:#4a4a4a;font-weight:400;letter-spacing:0.173px;">roadsign-mobilenet</span>
<span class="t" id="sh1" style="left:303.6px;top:696.2px;font-size:11.2px;line-height:16px;color:#1f1f1f;font-weight:400;letter-spacing:0.006px;-webkit-text-stroke:0.3px currentColor;">Labels</span>
<span class="t" id="sv1" style="left:303.6px;top:713.0px;font-size:11.2px;line-height:16px;color:#4a4a4a;font-weight:400;letter-spacing:0.189px;">trafficlight, stop, crosswalk, speedlimit</span>
<span class="t" id="sh2" style="left:614.9px;top:696.2px;font-size:11.2px;line-height:16px;color:#1f1f1f;font-weight:400;letter-spacing:0.044px;-webkit-text-stroke:0.3px currentColor;">Final Loss</span>
<span class="t" id="sv2" style="left:614.9px;top:713.0px;font-size:11.2px;line-height:16px;color:#4a4a4a;font-weight:400;letter-spacing:0.158px;">1.02859</span>
<span class="t" id="sh3" style="left:800.7px;top:696.2px;font-size:11.2px;line-height:16px;color:#1f1f1f;font-weight:400;letter-spacing:0.129px;-webkit-text-stroke:0.3px currentColor;">Version</span>
<span class="t" id="sv3" style="left:800.7px;top:713.0px;font-size:11.2px;line-height:16px;color:#4a4a4a;font-weight:400;">1</span>
<span class="t" id="sh4" style="left:973.3px;top:696.2px;font-size:11.2px;line-height:16px;color:#1f1f1f;font-weight:400;letter-spacing:0.103px;-webkit-text-stroke:0.3px currentColor;">Training Time</span>
<span class="t" id="sv4" style="left:973.3px;top:713.0px;font-size:11.2px;line-height:16px;color:#4a4a4a;font-weight:400;letter-spacing:0.101px;">0 hrs 31.4 mins</span>
<span class="t" id="ap" style="left:81.3px;top:745.6px;font-size:11.2px;line-height:16px;color:#4a4a4a;font-weight:400;letter-spacing:0.013px;">Average Precision</span>
<span class="t" id="ar" style="left:582.1px;top:745.6px;font-size:11.2px;line-height:16px;color:#4a4a4a;font-weight:400;transform:scaleX(0.9805);transform-origin:left center;">Average Recall</span>
<div class="b" style="left:81.3px;top:763px;width:485.7px;height:83px;background:#fff;border-radius:3px;border-top:2.6px solid #cc1f4d;box-shadow:0 1px 2px rgba(0,0,0,.12)"></div>
<div class="b" style="left:81.3px;top:792.4px;width:485.7px;height:1.0px;background:#ebebeb"></div>
<div class="b" style="left:81.3px;top:820.6px;width:485.7px;height:1.0px;background:#ebebeb"></div>
<span class="t" id="ph1" style="left:86.5px;top:772.2px;font-size:10.1px;line-height:14px;color:#222;font-weight:400;-webkit-text-stroke:0.16px currentColor;">IoU</span>
<span class="t" id="ph2" style="left:329.79999999999995px;top:772.2px;font-size:10.1px;line-height:14px;color:#222;font-weight:400;-webkit-text-stroke:0.16px currentColor;transform:scaleX(0.9989);transform-origin:left center;">Area IoU=.5:.9</span>
<span class="t" id="pr20" style="left:86.5px;top:800.3px;font-size:10.3px;line-height:14px;color:#1a1a1a;font-weight:400;transform:scaleX(0.9927);transform-origin:left center;">.5:.9</span>
<span class="t" id="pr21" style="left:167.6px;top:800.3px;font-size:10.3px;line-height:14px;color:#1a1a1a;font-weight:400;">.5</span>
<span class="t" id="pr22" style="left:248.7px;top:800.3px;font-size:10.3px;line-height:14px;color:#1a1a1a;font-weight:400;">.75</span>
<span class="t" id="pr23" style="left:329.79999999999995px;top:800.3px;font-size:10.3px;line-height:14px;color:#1a1a1a;font-weight:400;">Sm</span>
<span class="t" id="pr24" style="left:410.9px;top:800.3px;font-size:10.3px;line-height:14px;color:#1a1a1a;font-weight:400;">Med</span>
<span class="t" id="pr25" style="left:492.0px;top:800.3px;font-size:10.3px;line-height:14px;color:#1a1a1a;font-weight:400;">Lg</span>
<span class="t" id="pr30" style="left:86.5px;top:827.1px;font-size:10.2px;line-height:14px;color:#484848;font-weight:400;">0.604</span>
<span class="t" id="pr31" style="left:167.6px;top:827.1px;font-size:10.2px;line-height:14px;color:#484848;font-weight:400;">0.826</span>
<span class="t" id="pr32" style="left:248.7px;top:827.1px;font-size:10.2px;line-height:14px;color:#484848;font-weight:400;">0.673</span>
<span class="t" id="pr33" style="left:329.79999999999995px;top:827.1px;font-size:10.2px;line-height:14px;color:#484848;font-weight:400;">0.360</span>
<span class="t" id="pr34" style="left:410.9px;top:827.1px;font-size:10.2px;line-height:14px;color:#484848;font-weight:400;">0.742</span>
<span class="t" id="pr35" style="left:492.0px;top:827.1px;font-size:10.2px;line-height:14px;color:#484848;font-weight:400;">0.826</span>
<div class="b" style="left:581.8px;top:763px;width:486.0px;height:83px;background:#fff;border-radius:3px;border-top:2.6px solid #cc1f4d;box-shadow:0 1px 2px rgba(0,0,0,.12)"></div>
<div class="b" style="left:581.8px;top:792.4px;width:486.0px;height:1.0px;background:#ebebeb"></div>
<div class="b" style="left:581.8px;top:820.6px;width:486.0px;height:1.0px;background:#ebebeb"></div>
<span class="t" id="rh1" style="left:587.0px;top:772.2px;font-size:10.1px;line-height:14px;color:#222;font-weight:400;-webkit-text-stroke:0.16px currentColor;transform:scaleX(0.9944);transform-origin:left center;">Max Dets</span>
<span class="t" id="rh2" style="left:830.3px;top:772.2px;font-size:10.1px;line-height:14px;color:#222;font-weight:400;-webkit-text-stroke:0.16px currentColor;transform:scaleX(0.9989);transform-origin:left center;">Max Dets=100</span>
<span class="t" id="rr20" style="left:587.0px;top:800.3px;font-size:10.3px;line-height:14px;color:#1a1a1a;font-weight:400;">1</span>
<span class="t" id="rr21" style="left:668.1px;top:800.3px;font-size:10.3px;line-height:14px;color:#1a1a1a;font-weight:400;">10</span>
<span class="t" id="rr22" style="left:749.2px;top:800.3px;font-size:10.3px;line-height:14px;color:#1a1a1a;font-weight:400;">100</span>
<span class="t" id="rr23" style="left:830.3px;top:800.3px;font-size:10.3px;line-height:14px;color:#1a1a1a;font-weight:400;">Sm</span>
<span class="t" id="rr24" style="left:911.4px;top:800.3px;font-size:10.3px;line-height:14px;color:#1a1a1a;font-weight:400;">Med</span>
<span class="t" id="rr25" style="left:992.5px;top:800.3px;font-size:10.3px;line-height:14px;color:#1a1a1a;font-weight:400;">Lg</span>
<span class="t" id="rr30" style="left:587.0px;top:827.1px;font-size:10.2px;line-height:14px;color:#484848;font-weight:400;">0.594</span>
<span class="t" id="rr31" style="left:668.1px;top:827.1px;font-size:10.2px;line-height:14px;color:#484848;font-weight:400;">0.670</span>
<span class="t" id="rr32" style="left:749.2px;top:827.1px;font-size:10.2px;line-height:14px;color:#484848;font-weight:400;">0.676</span>
<span class="t" id="rr33" style="left:830.3px;top:827.1px;font-size:10.2px;line-height:14px;color:#484848;font-weight:400;">0.436</span>
<span class="t" id="rr34" style="left:911.4px;top:827.1px;font-size:10.2px;line-height:14px;color:#484848;font-weight:400;">0.805</span>
<span class="t" id="rr35" style="left:992.5px;top:827.1px;font-size:10.2px;line-height:14px;color:#484848;font-weight:400;">0.856</span>
<div class="b" style="left:0px;top:848px;width:1600px;height:1px;background:#bdbdbd"></div>
<div class="b" style="left:1089.4px;top:110.6px;width:483.0px;height:598.9px;background:#fafafa;border-radius:2.5px;box-shadow:0 0 0 1px rgba(0,0,0,.03),0 1px 2px rgba(0,0,0,.09)"></div>
<span class="t" id="cf1" style="left:1103.7px;top:121.9px;font-size:12px;line-height:17px;color:#1a1a1a;font-weight:400;-webkit-text-stroke:0.3px currentColor;transform:scaleX(0.9403);transform-origin:left center;">CONFIGURE</span>
<svg class="b" style="left:1542.5px;top:125px" width="13" height="14" viewBox="0 0 13 14"><path d="M6.5 2.1 A4.9 4.9 0 0 1 8.18 11.6" fill="none" stroke="#1c1c1c" stroke-width="1.5"/><g fill="#1c1c1c"><ellipse cx="5.1" cy="11.7" rx="1" ry="0.75" transform="rotate(15 5.1 11.7)"/><ellipse cx="2.3" cy="9.5" rx="1" ry="0.75" transform="rotate(60 2.3 9.5)"/><ellipse cx="2.1" cy="5" rx="1" ry="0.75" transform="rotate(-65 2.1 5)"/><path d="M4.5 2.2 L7.2 0.3 L7.2 4.1 Z"/></g></svg>
<span class="t" id="cf2" style="left:1106.6px;top:157.5px;font-size:10.4px;line-height:15px;color:#5a5a5a;font-weight:400;transform:scaleX(0.9722);transform-origin:left center;">Dataset (coco)</span>
<div class="b" style="left:1103.4px;top:174px;width:454.5999999999999px;height:36px;background:#fff;border:1px solid #dcdcdc;border-radius:4px;"></div>
<span class="t" id="cf3" style="left:1113.3px;top:182.8px;font-size:11.2px;line-height:16px;color:#444;font-weight:400;letter-spacing:0.174px;">roadsigns - 5/20/2022, 10:47:49 AM</span>
<svg class="b" style="left:1537.45px;top:183.55px" width="13.5" height="13.5" viewBox="0 0 24 24"><path fill="#222" d="M19 6.41L17.59 5 12 10.59 6.41 5 5 6.41 10.59 12 5 17.59 6.41 19 12 13.41 17.59 19 19 17.59 13.41 12z"/></svg>
<div class="b" style="left:1443px;top:215.3px;width:114.40000000000009px;height:28.399999999999977px;background:#4422dd;border-radius:4.5px;box-shadow:0 1px 2px rgba(0,0,0,.2)"></div>
<span class="t" id="cf4" style="left:1454.9px;top:220.2px;font-size:12.8px;line-height:18px;color:#fff;font-weight:400;-webkit-text-stroke:0.3px currentColor;transform:scaleX(0.9883);transform-origin:left center;">Change Dataset</span>
<span class="t" id="cf5" style="left:1106.6px;top:266.3px;font-size:10.4px;line-height:15px;color:#5a5a5a;font-weight:400;transform:scaleX(0.9710);transform-origin:left center;">Model Name</span>
<div class="b" style="left:1103.4px;top:282px;width:454.5999999999999px;height:28px;background:#fff;border:1px solid #dcdcdc;border-radius:4px;"></div>
<span class="t" id="cf6" style="left:1113.6px;top:287.3px;font-size:11.2px;line-height:16px;color:#444;font-weight:400;letter-spacing:0.308px;">roadsign-mobilenet</span>
<div class="b" style="left:1105.8px;top:322.1px;width:12.799999999999955px;height:12.799999999999955px;border:1.7px solid #737373;border-radius:2.5px;background:#fff"></div>
<span class="t" id="cf7" style="left:1123.9px;top:320.2px;font-size:10.4px;line-height:15px;color:#444;font-weight:400;transform:scaleX(0.9691);transform-origin:left center;">Continue training from previous version</span>
<span class="t" id="cf8" style="left:1103.7px;top:358.9px;font-size:12px;line-height:17px;color:#1a1a1a;font-weight:400;-webkit-text-stroke:0.3px currentColor;transform:scaleX(0.9697);transform-origin:left center;">LABELS</span>
<svg class="b" style="left:1150.2px;top:361.2px" width="10.6" height="10.6" viewBox="0 0 24 24"><path fill="#757575" d="M12 2C6.48 2 2 6.48 2 12s4.48 10 10 10 10-4.48 10-10S17.52 2 12 2zm1 15h-2v-6h2v6zm0-8h-2V7h2v2z"/></svg>
<div class="b" style="left:1103.7px;top:383.1px;width:53.200000000000045px;height:15.899999999999977px;background:#e2e2e2;border-radius:8px"></div>
<span class="t" id="ch0" style="left:1109.4px;top:384.0px;font-size:10px;line-height:14px;color:#2a2a2a;font-weight:400;transform:scaleX(0.9830);transform-origin:left center;">trafficlight</span>
<div class="b" style="left:1162.9px;top:383.1px;width:29.699999999999818px;height:15.899999999999977px;background:#e2e2e2;border-radius:8px"></div>
<span class="t" id="ch1" style="left:1168.7px;top:384.0px;font-size:10px;line-height:14px;color:#2a2a2a;font-weight:400;transform:scaleX(0.9626);transform-origin:left center;">stop</span>
<div class="b" style="left:1198.6px;top:383.1px;width:52.5px;height:15.899999999999977px;background:#e2e2e2;border-radius:8px"></div>
<span class="t" id="ch2" style="left:1204.4px;top:384.0px;font-size:10px;line-height:14px;color:#2a2a2a;font-weight:400;transform:scaleX(0.9429);transform-origin:left center;">crosswalk</span>
<div class="b" style="left:1257.3px;top:383.1px;width:54.600000000000136px;height:15.899999999999977px;background:#e2e2e2;border-radius:8px"></div>
<span class="t" id="ch3" style="left:1263.4px;top:384.0px;font-size:10px;line-height:14px;color:#2a2a2a;font-weight:400;transform:scaleX(0.9505);transform-origin:left center;">speedlimit</span>
<span class="t" id="cf9" style="left:1103.7px;top:416.3px;font-size:12px;line-height:17px;color:#1a1a1a;font-weight:400;-webkit-text-stroke:0.3px currentColor;transform:scaleX(0.9902);transform-origin:left center;">TRAINING SETTINGS</span>
<span class="t" id="cf10" style="left:1106.6px;top:441.6px;font-size:10.4px;line-height:15px;color:#5a5a5a;font-weight:400;transform:scaleX(0.9807);transform-origin:left center;">Model Architecture</span>
<svg class="b" style="left:1192.8px;top:443.9px" width="10.6" height="10.6" viewBox="0 0 24 24"><path fill="#757575" d="M12 2C6.48 2 2 6.48 2 12s4.48 10 10 10 10-4.48 10-10S17.52 2 12 2zm1 15h-2v-6h2v6zm0-8h-2V7h2v2z"/></svg>
<div class="b" style="left:1103.4px;top:457.4px;width:454.5999999999999px;height:36.60000000000002px;background:#fff;border:1px solid #dcdcdc;border-radius:4px;"></div>
<span class="t" id="cf11" style="left:1110.6px;top:466.4px;font-size:11.2px;line-height:16px;color:#444;font-weight:400;letter-spacing:0.087px;">mobilenet_v1</span>
<svg class="b" style="left:1533.55px;top:466.65px" width="17.5" height="17.5" viewBox="0 0 24 24"><path fill="#505050" d="M7 10l5 5 5-5z"/></svg>
<span class="t" id="cf12" style="left:1106.6px;top:509.1px;font-size:10.4px;line-height:15px;color:#5a5a5a;font-weight:400;transform:scaleX(0.9598);transform-origin:left center;">Number of Epochs</span>
<svg class="b" style="left:1191.0px;top:511.40000000000003px" width="10.6" height="10.6" viewBox="0 0 24 24"><path fill="#757575" d="M12 2C6.48 2 2 6.48 2 12s4.48 10 10 10 10-4.48 10-10S17.52 2 12 2zm1 15h-2v-6h2v6zm0-8h-2V7h2v2z"/></svg>
<div class="b" style="left:1103.4px;top:525px;width:454.5999999999999px;height:33px;background:#fff;border:1px solid #dcdcdc;border-radius:4px;"></div>
<span class="t" id="cf13" style="left:1110.6px;top:533.6px;font-size:11.2px;line-height:16px;color:#444;font-weight:400;">50</span>
<span class="t" id="cf14" style="left:1106.6px;top:572.7px;font-size:10.4px;line-height:15px;color:#5a5a5a;font-weight:400;transform:scaleX(0.9341);transform-origin:left center;">Batch Size</span>
<svg class="b" style="left:1155.3px;top:575.2px" width="10.6" height="10.6" viewBox="0 0 24 24"><path fill="#757575" d="M12 2C6.48 2 2 6.48 2 12s4.48 10 10 10 10-4.48 10-10S17.52 2 12 2zm1 15h-2v-6h2v6zm0-8h-2V7h2v2z"/></svg>
<div class="b" style="left:1103.4px;top:589.4px;width:454.5999999999999px;height:36.0px;background:#fff;border:1px solid #dcdcdc;border-radius:4px;"></div>
<span class="t" id="cf15" style="left:1110.9px;top:597.9px;font-size:11.2px;line-height:16px;color:#444;font-weight:400;">16</span>
<svg class="b" style="left:1533.55px;top:597.75px" width="17.5" height="17.5" viewBox="0 0 24 24"><path fill="#505050" d="M7 10l5 5 5-5z"/></svg>
<span class="t" id="cf16" style="left:1106.6px;top:646.5px;font-size:10.4px;line-height:15px;color:#5a5a5a;font-weight:400;transform:scaleX(0.9489);transform-origin:left center;">Image Input Size</span>
<svg class="b" style="left:1182.7px;top:648.5px" width="10.6" height="10.6" viewBox="0 0 24 24"><path fill="#757575" d="M12 2C6.48 2 2 6.48 2 12s4.48 10 10 10 10-4.48 10-10S17.52 2 12 2zm1 15h-2v-6h2v6zm0-8h-2V7h2v2z"/></svg>
<div class="b" style="left:1103.4px;top:662.4px;width:454.5999999999999px;height:35.80000000000007px;background:#fff;border:1px solid #dcdcdc;border-radius:4px;"></div>
<span class="t" id="cf17" style="left:1110.3px;top:671.4px;font-size:11.2px;line-height:16px;color:#444;font-weight:400;letter-spacing:0.331px;">Small/Default (300x300)</span>
<svg class="b" style="left:1533.55px;top:671.25px" width="17.5" height="17.5" viewBox="0 0 24 24"><path fill="#505050" d="M7 10l5 5 5-5z"/></svg>
</body></html>
